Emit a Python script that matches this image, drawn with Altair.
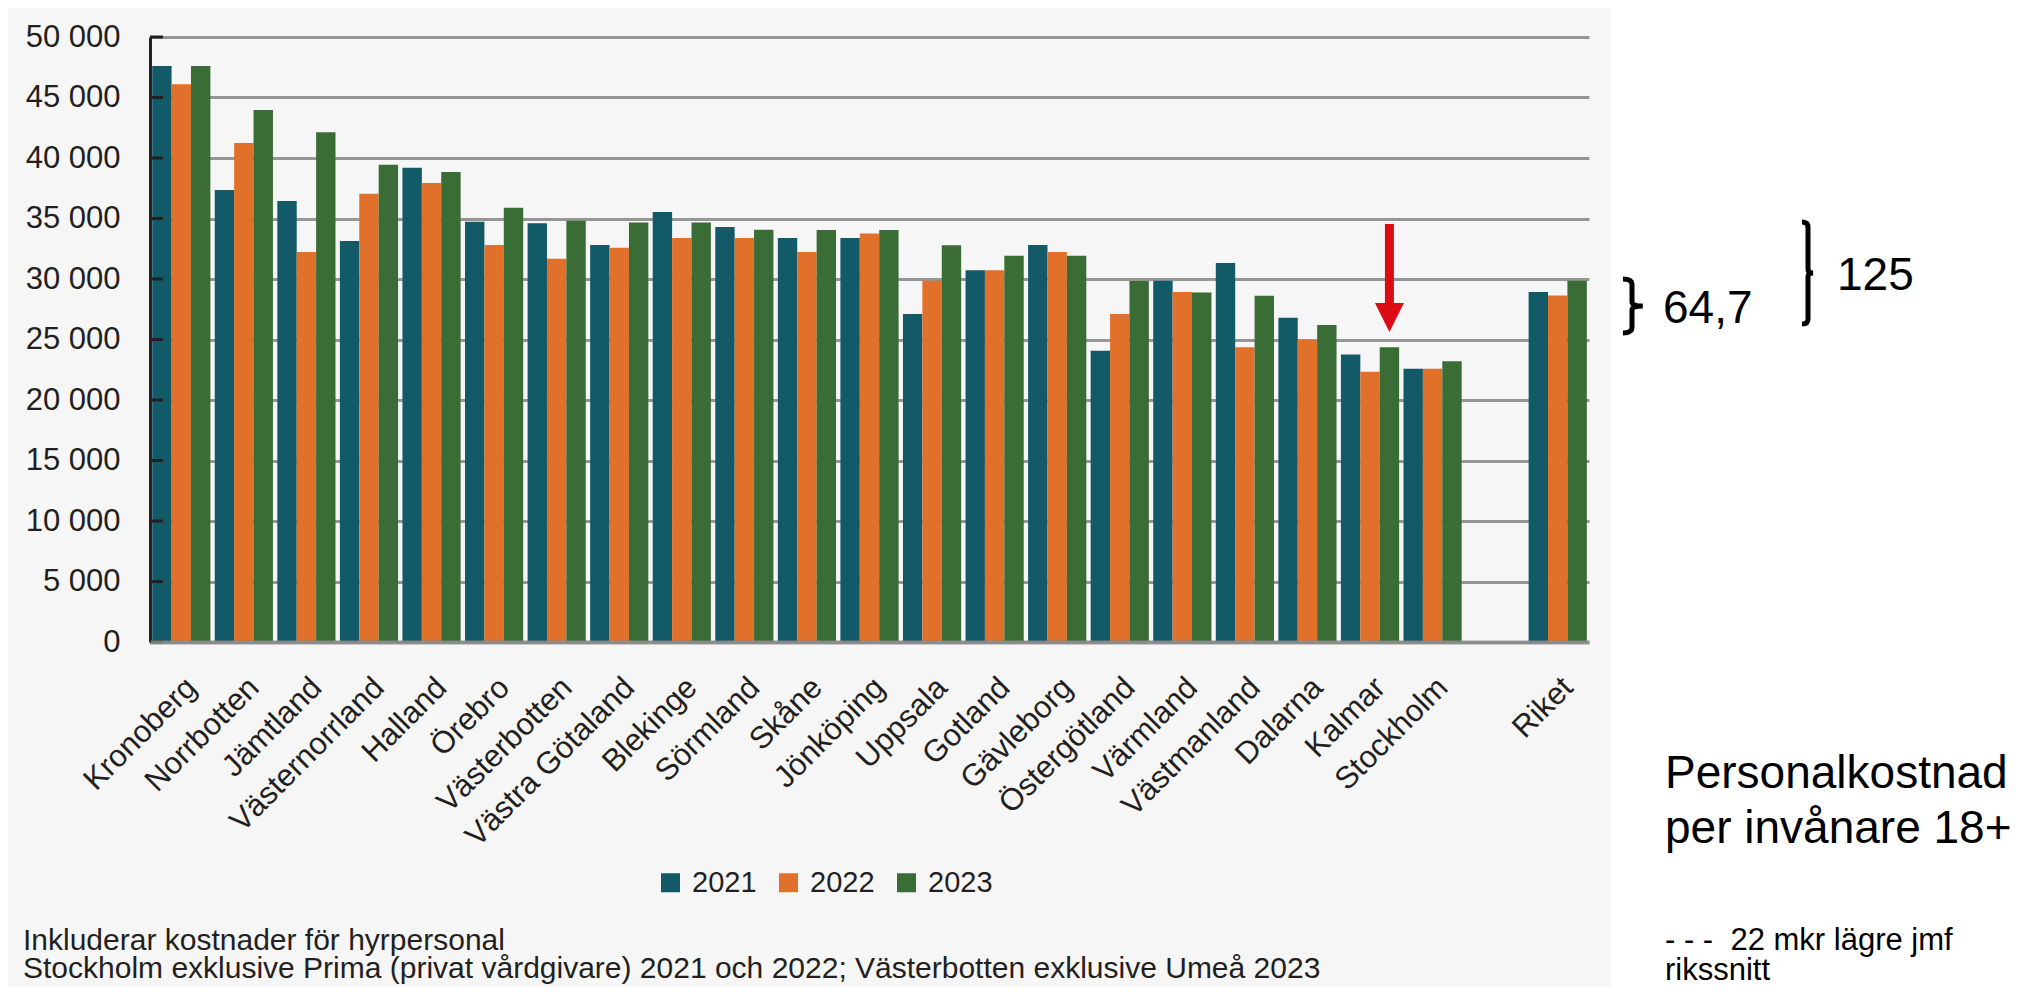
import altair as alt
import pandas as pd

# ---------------- data ----------------
regions = ["Kronoberg", "Norrbotten", "Jämtland", "Västernorrland", "Halland",
           "Örebro", "Västerbotten", "Västra Götaland", "Blekinge", "Sörmland",
           "Skåne", "Jönköping", "Uppsala", "Gotland", "Gävleborg",
           "Östergötland", "Värmland", "Västmanland", "Dalarna", "Kalmar",
           "Stockholm", "Riket"]
years = ["2021", "2022", "2023"]
v2021 = [47600, 37350, 36450, 33140, 39200, 34740, 34600, 32820, 35540, 34290,
         33380, 33380, 27110, 30730, 32820, 24080, 29860, 31320, 26790, 23760,
         22580, 28920]
v2022 = [46100, 41250, 32230, 37040, 37940, 32820, 31670, 32580, 33380, 33380,
         32230, 33760, 29860, 30730, 32230, 27110, 28920, 24360, 24950, 22330,
         22580, 28640]
v2023 = [47600, 43970, 42130, 39440, 38850, 35890, 34810, 34670, 34670, 34080,
         34040, 34040, 32790, 31920, 31920, 29830, 28890, 28610, 26200, 24360,
         23200, 29860]
y_ticks = [0, 5000, 10000, 15000, 20000, 25000, 30000, 35000, 40000, 45000, 50000]
colors = ["#135a69", "#e0702a", "#3a6c35"]

footer1 = "Inkluderar kostnader för hyrpersonal"
footer2 = "Stockholm exklusive Prima (privat vårdgivare) 2021 och 2022; Västerbotten exklusive Umeå 2023"
note_a = "64,7"
note_b = "125"
side_title1 = "Personalkostnad"
side_title2 = "per invånare 18+"
side_note1 = "- - -\u00a0\u00a022 mkr lägre jmf"
side_note2 = "rikssnitt"

# arrow over Kalmar 2023 (value range of the arrow)
arrow_region, arrow_year = "Kalmar", "2023"
arrow_top, arrow_shaft_end, arrow_head_mid = 34550, 27800, 26820

# ---------------- build ----------------
x_domain = regions[:-1] + [" "] + [regions[-1]]
rows = []
for i, r in enumerate(regions):
    for y, vals in zip(years, [v2021, v2022, v2023]):
        rows.append({"region": r, "year": y, "value": vals[i]})
df = pd.DataFrame(rows)

FONT = "Liberation Sans"
TXT = "#231f20"
W, H = 1439, 605

x_enc = alt.X("region:N", sort=x_domain,
              scale=alt.Scale(domain=x_domain, paddingInner=0.07, paddingOuter=0.035),
              axis=alt.Axis(title=None, labelAngle=-45, labelAlign="right",
                            labelBaseline="top", labelFontSize=31, labelFont=FONT,
                            labelColor=TXT, ticks=False, tickSize=0, labelPadding=30,
                            labelLimit=0,
                            domain=True, domainColor="#8c8c8c", domainWidth=4,
                            domainOpacity=0.85, grid=False, zindex=1,
                            labelOverlap=False))
xoff_enc = alt.XOffset("year:N", scale=alt.Scale(domain=years, paddingInner=0, paddingOuter=0))
y_scale = alt.Scale(domain=[0, 50000], nice=False)

bars = alt.Chart(df).mark_bar().encode(
    x=x_enc,
    xOffset=xoff_enc,
    y=alt.Y("value:Q", scale=y_scale,
            axis=alt.Axis(values=y_ticks, title=None, labelFontSize=31, labelFont=FONT,
                          labelColor=TXT, ticks=False, tickSize=0, labelPadding=30,
                          labelExpr="replace(format(datum.value, ','), ',', ' ')",
                          domainColor=TXT, domainWidth=3, grid=True,
                          gridColor="#969696", gridWidth=3)),
    color=alt.Color("year:N", scale=alt.Scale(domain=years, range=colors),
                    legend=alt.Legend(orient="none", legendX=506, legendY=831,
                                      direction="horizontal", title=None,
                                      symbolType="square", symbolSize=361,
                                      symbolStrokeWidth=0, labelFontSize=29,
                                      labelFont=FONT, labelColor=TXT, labelOffset=7,
                                      columnPadding=17, padding=0)),
)

one = alt.Data(values=[{"a": 1}])

white_side = alt.Chart(one).mark_rect(color="white").encode(
    x=alt.value(1461), x2=alt.value(1880), y=alt.value(-40), y2=alt.value(960))

tick_df = pd.DataFrame({"v": y_ticks})
ticks = alt.Chart(tick_df).mark_rule(color=TXT, strokeWidth=3).encode(
    y=alt.Y("v:Q", scale=y_scale), x=alt.value(0), x2=alt.value(13))

arrow_df = pd.DataFrame({"region": [arrow_region], "year": [arrow_year],
                         "top": [arrow_top], "end": [arrow_shaft_end],
                         "head": [arrow_head_mid]})
shaft = alt.Chart(arrow_df).mark_rule(color="#dc0c15", strokeWidth=9).encode(
    x=alt.X("region:N"), xOffset=alt.XOffset("year:N"),
    y=alt.Y("top:Q", scale=y_scale), y2="end:Q")
head = alt.Chart(arrow_df).mark_point(shape="M-1,-1L1,-1L0,1Z", size=841, filled=True,
                                      color="#dc0c15", opacity=1, strokeWidth=0).encode(
    x=alt.X("region:N"), xOffset=alt.XOffset("year:N"),
    y=alt.Y("head:Q", scale=y_scale))

brace1 = alt.Chart(one).mark_point(
    shape="M-0.67,-2Q0,-2,0,-1.6L0,-0.3Q0,0,0.8,0Q0,0,0,0.3L0,1.6Q0,2,-0.67,2",
    size=729, filled=False, color="black", strokeWidth=5, opacity=1).encode(
    x=alt.value(1482), y=alt.value(269))
brace2 = alt.Chart(one).mark_point(
    shape="M-0.47,-4Q0,-4,0,-3.6L0,-0.3Q0,0,0.4,0Q0,0,0,0.3L0,3.6Q0,4,-0.47,4",
    size=650, filled=False, color="black", strokeWidth=5, opacity=1).encode(
    x=alt.value(1658), y=alt.value(236))


def txt(s, x, y, size, color="black"):
    return alt.Chart(one).mark_text(text=s, align="left", baseline="alphabetic",
                                    fontSize=size, font=FONT, color=color).encode(
        x=alt.value(x), y=alt.value(y))


texts = [
    txt(note_a, 1513, 286, 46),
    txt(note_b, 1687, 253, 46),
    txt(side_title1, 1515, 751, 46),
    txt(side_title2, 1515, 806, 46),
    txt(side_note1, 1515, 913, 31),
    txt(side_note2, 1515, 943, 31),
    txt(footer1, -127, 913, 30, TXT),
    txt(footer2, -127, 941, 30, TXT),
]

chart = alt.layer(white_side, bars, ticks, shaft, head, brace1, brace2, *texts).properties(
    width=W, height=H,
    autosize=alt.AutoSizeParams(type="none"),
    padding={"left": 142, "top": 29, "right": 426, "bottom": 345},
    background="#f6f6f6",
).configure_view(stroke=None)

chart.save("out.html", embed_options={"renderer": "svg", "actions": False})
